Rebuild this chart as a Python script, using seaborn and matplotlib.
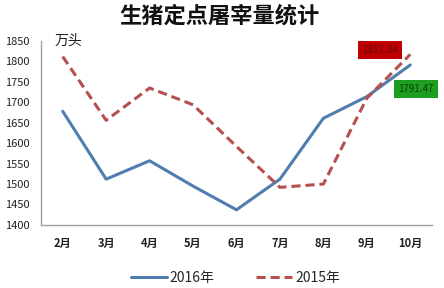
import matplotlib
matplotlib.use("Agg")
import matplotlib.pyplot as plt
import seaborn as sns
import pandas as pd
from matplotlib.lines import Line2D

months = ["2月", "3月", "4月", "5月", "6月", "7月", "8月", "9月", "10月"]
y2016 = [1678, 1512, 1557, 1495, 1437, 1512, 1661, 1714, 1791.47]
y2015 = [1812, 1656, 1735, 1694, 1592, 1492, 1500, 1710, 1817.34]
series_names = ["2016年", "2015年"]
title = "生猪定点屠宰量统计"
unit = "万头"

sns.set_theme(style="white")
plt.rcParams['font.family'] = ['Noto Sans CJK SC', 'DejaVu Sans']

df = pd.DataFrame({
    "month": months * 2,
    "value": y2016 + y2015,
    "series": [series_names[0]] * len(months) + [series_names[1]] * len(months),
})
df["x"] = list(range(len(months))) * 2

fig = plt.figure(figsize=(4.44, 2.88), dpi=100)
ax = fig.add_axes([0.0923, 0.219, 0.8807, 0.6386])

palette = {series_names[0]: "#4F7DB0", series_names[1]: "#B5504E"}
sns.lineplot(data=df, x="x", y="value", hue="series", style="series",
             palette=palette, dashes={series_names[0]: "", series_names[1]: (3, 1.6)},
             linewidth=2.2, ax=ax, legend=False)

ax.set_xlim(-0.5, len(months) - 0.5)
ax.set_ylim(1400, 1850)
ax.set_yticks(range(1400, 1851, 50))
ax.set_xticks(range(len(months)))
ax.set_xticklabels(months)
ax.tick_params(axis='both', length=0, labelsize=8, colors="#222222")
ax.tick_params(axis='x', pad=9)
ax.tick_params(axis='y', pad=8)
for lab in ax.get_xticklabels():
    lab.set_fontweight('bold')
ax.set_xlabel("")
ax.set_ylabel("")
for s in ["top", "right"]:
    ax.spines[s].set_visible(False)
for s in ["left", "bottom"]:
    ax.spines[s].set_color("#A0A0A0")
    ax.spines[s].set_linewidth(1)

fig.text(0.495, 0.945, title, ha="center", va="center", fontsize=16, fontweight="bold", color="#111111")
fig.text(55/444, 1 - 41/288, unit, ha="left", va="center", fontsize=10, color="#222222")

# data labels
ax.annotate(f"{y2015[-1]:.2f}", xy=(len(months) - 1, y2015[-1]), xytext=(380/444, 1 - 50/288),
            textcoords="figure fraction", ha="center", va="center", fontsize=7, color="#5a1010",
            bbox=dict(boxstyle="square,pad=0.4", fc="#C00000", ec="none"))
ax.annotate(f"{y2016[-1]:.2f}", xy=(len(months) - 1, y2016[-1]), xytext=(416/444, 1 - 89/288),
            textcoords="figure fraction", ha="center", va="center", fontsize=7, color="#0b3d0b",
            bbox=dict(boxstyle="square,pad=0.4", fc="#1E9E1E", ec="none"))

# legend
handles = [Line2D([0], [0], color=palette[series_names[0]], lw=2.2),
           Line2D([0], [0], color=palette[series_names[1]], lw=2.2, dashes=(3, 1.6))]
fig.legend(handles, series_names, loc="center", bbox_to_anchor=(0.53, 1 - 278/288), ncol=2,
           frameon=False, fontsize=10, handlelength=2.6, handletextpad=0.2, columnspacing=3.0)

fig.savefig("out.png", dpi=100)
